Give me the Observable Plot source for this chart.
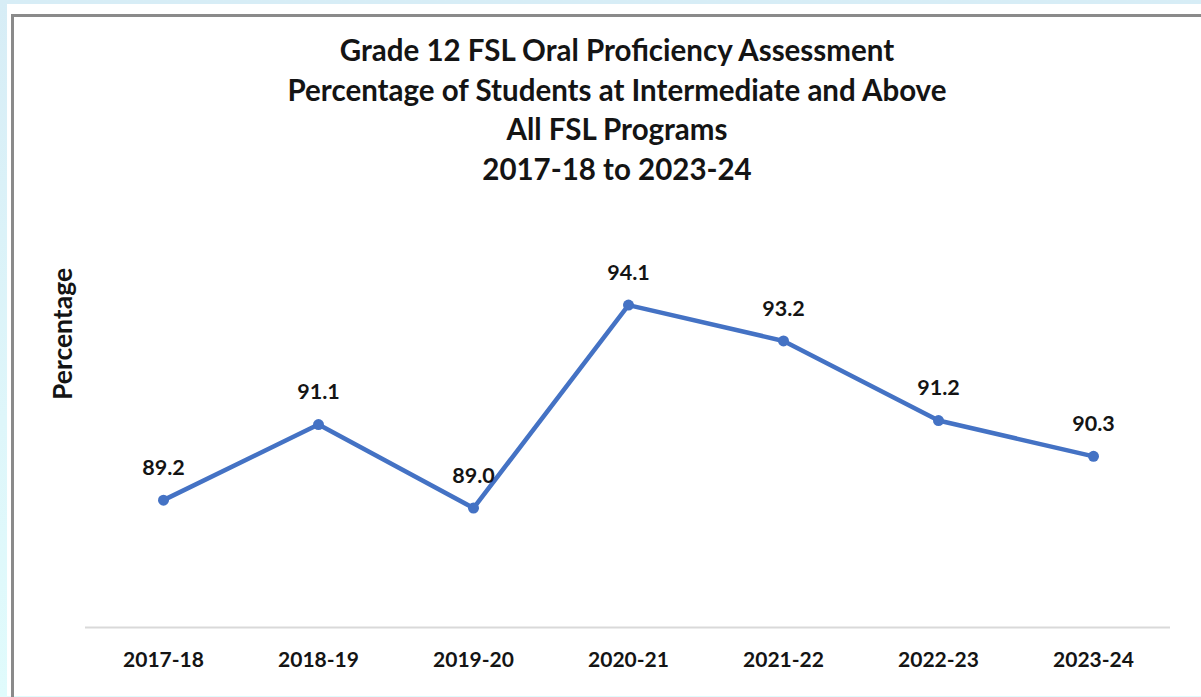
<!DOCTYPE html>
<html>
<head>
<meta charset="utf-8">
<script src="https://cdn.jsdelivr.net/npm/d3@7"></script>
<script src="https://cdn.jsdelivr.net/npm/@observablehq/plot@0.6"></script>
<style>
  html, body { margin: 0; padding: 0; }
  body { width: 1201px; height: 697px; overflow: hidden; position: relative;
         background: linear-gradient(180deg, #d7edf6 0%, #def6fa 60%, #e0fbfc 100%);
         font-family: Lato, "Open Sans", sans-serif; }
  #panel { position: absolute; left: 7px; top: 4px; width: 1194px; height: 692px; background: #fff; }
  #frame { position: absolute; left: 11px; top: 14px; width: 1300px; height: 800px;
           border-left: 3px solid #8a8a8a; border-top: 3px solid #8a8a8a; box-sizing: border-box; }
  #title { position: absolute; left: 0; width: 1234px; top: 30px; text-align: center;
           font-weight: 700; font-size: 29.5px; line-height: 39.5px; color: #141414; }
  #ylab { position: absolute; left: 62px; top: 334px; transform: translate(-50%, -50%) rotate(-90deg);
          font-weight: 700; font-size: 26.5px; color: #141414; white-space: nowrap; }
  #chart { position: absolute; left: 0; top: 0; }
</style>
</head>
<body>
<div id="panel"></div>
<div id="frame"></div>
<div id="chart"></div>
<div id="title"></div>
<div id="ylab">Percentage</div>
<script>
const titleLines = [
  "Grade 12 FSL Oral Proficiency Assessment",
  "Percentage of Students at Intermediate and Above",
  "All FSL Programs",
  "2017-18 to 2023-24"
];
const years = ["2017-18", "2018-19", "2019-20", "2020-21", "2021-22", "2022-23", "2023-24"];
const values = [89.2, 91.1, 89.0, 94.1, 93.2, 91.2, 90.3];

document.getElementById("title").innerHTML = titleLines.map(t => `<div>${t}</div>`).join("");

const data = years.map((y, i) => ({year: y, value: values[i]}));

const chart = Plot.plot({
  width: 1201,
  height: 697,
  marginLeft: 85,
  marginRight: 31,
  marginTop: 229,
  marginBottom: 70,
  style: {background: "transparent", fontFamily: "Lato, 'Open Sans', sans-serif"},
  x: {type: "point", domain: years, padding: 0.5, label: null},
  y: {domain: [86, 96], axis: null},
  marks: [
    Plot.ruleY([86], {stroke: "#d9d9d9", strokeWidth: 2}),
    Plot.axisX({tickSize: 0, tickPadding: 25, fontSize: 21, fontWeight: 700, fill: "#141414", label: null}),
    Plot.line(data, {x: "year", y: "value", stroke: "#4472c4", strokeWidth: 4.5, strokeLinejoin: "round", strokeLinecap: "round"}),
    Plot.dot(data, {x: "year", y: "value", r: 5.5, fill: "#4472c4"}),
    Plot.text(data, {x: "year", y: "value", text: d => d.value.toFixed(1), dy: -32, fontSize: 21.5, fontWeight: 700, fill: "#141414"})
  ]
});
document.getElementById("chart").appendChild(chart);
</script>
</body>
</html>
